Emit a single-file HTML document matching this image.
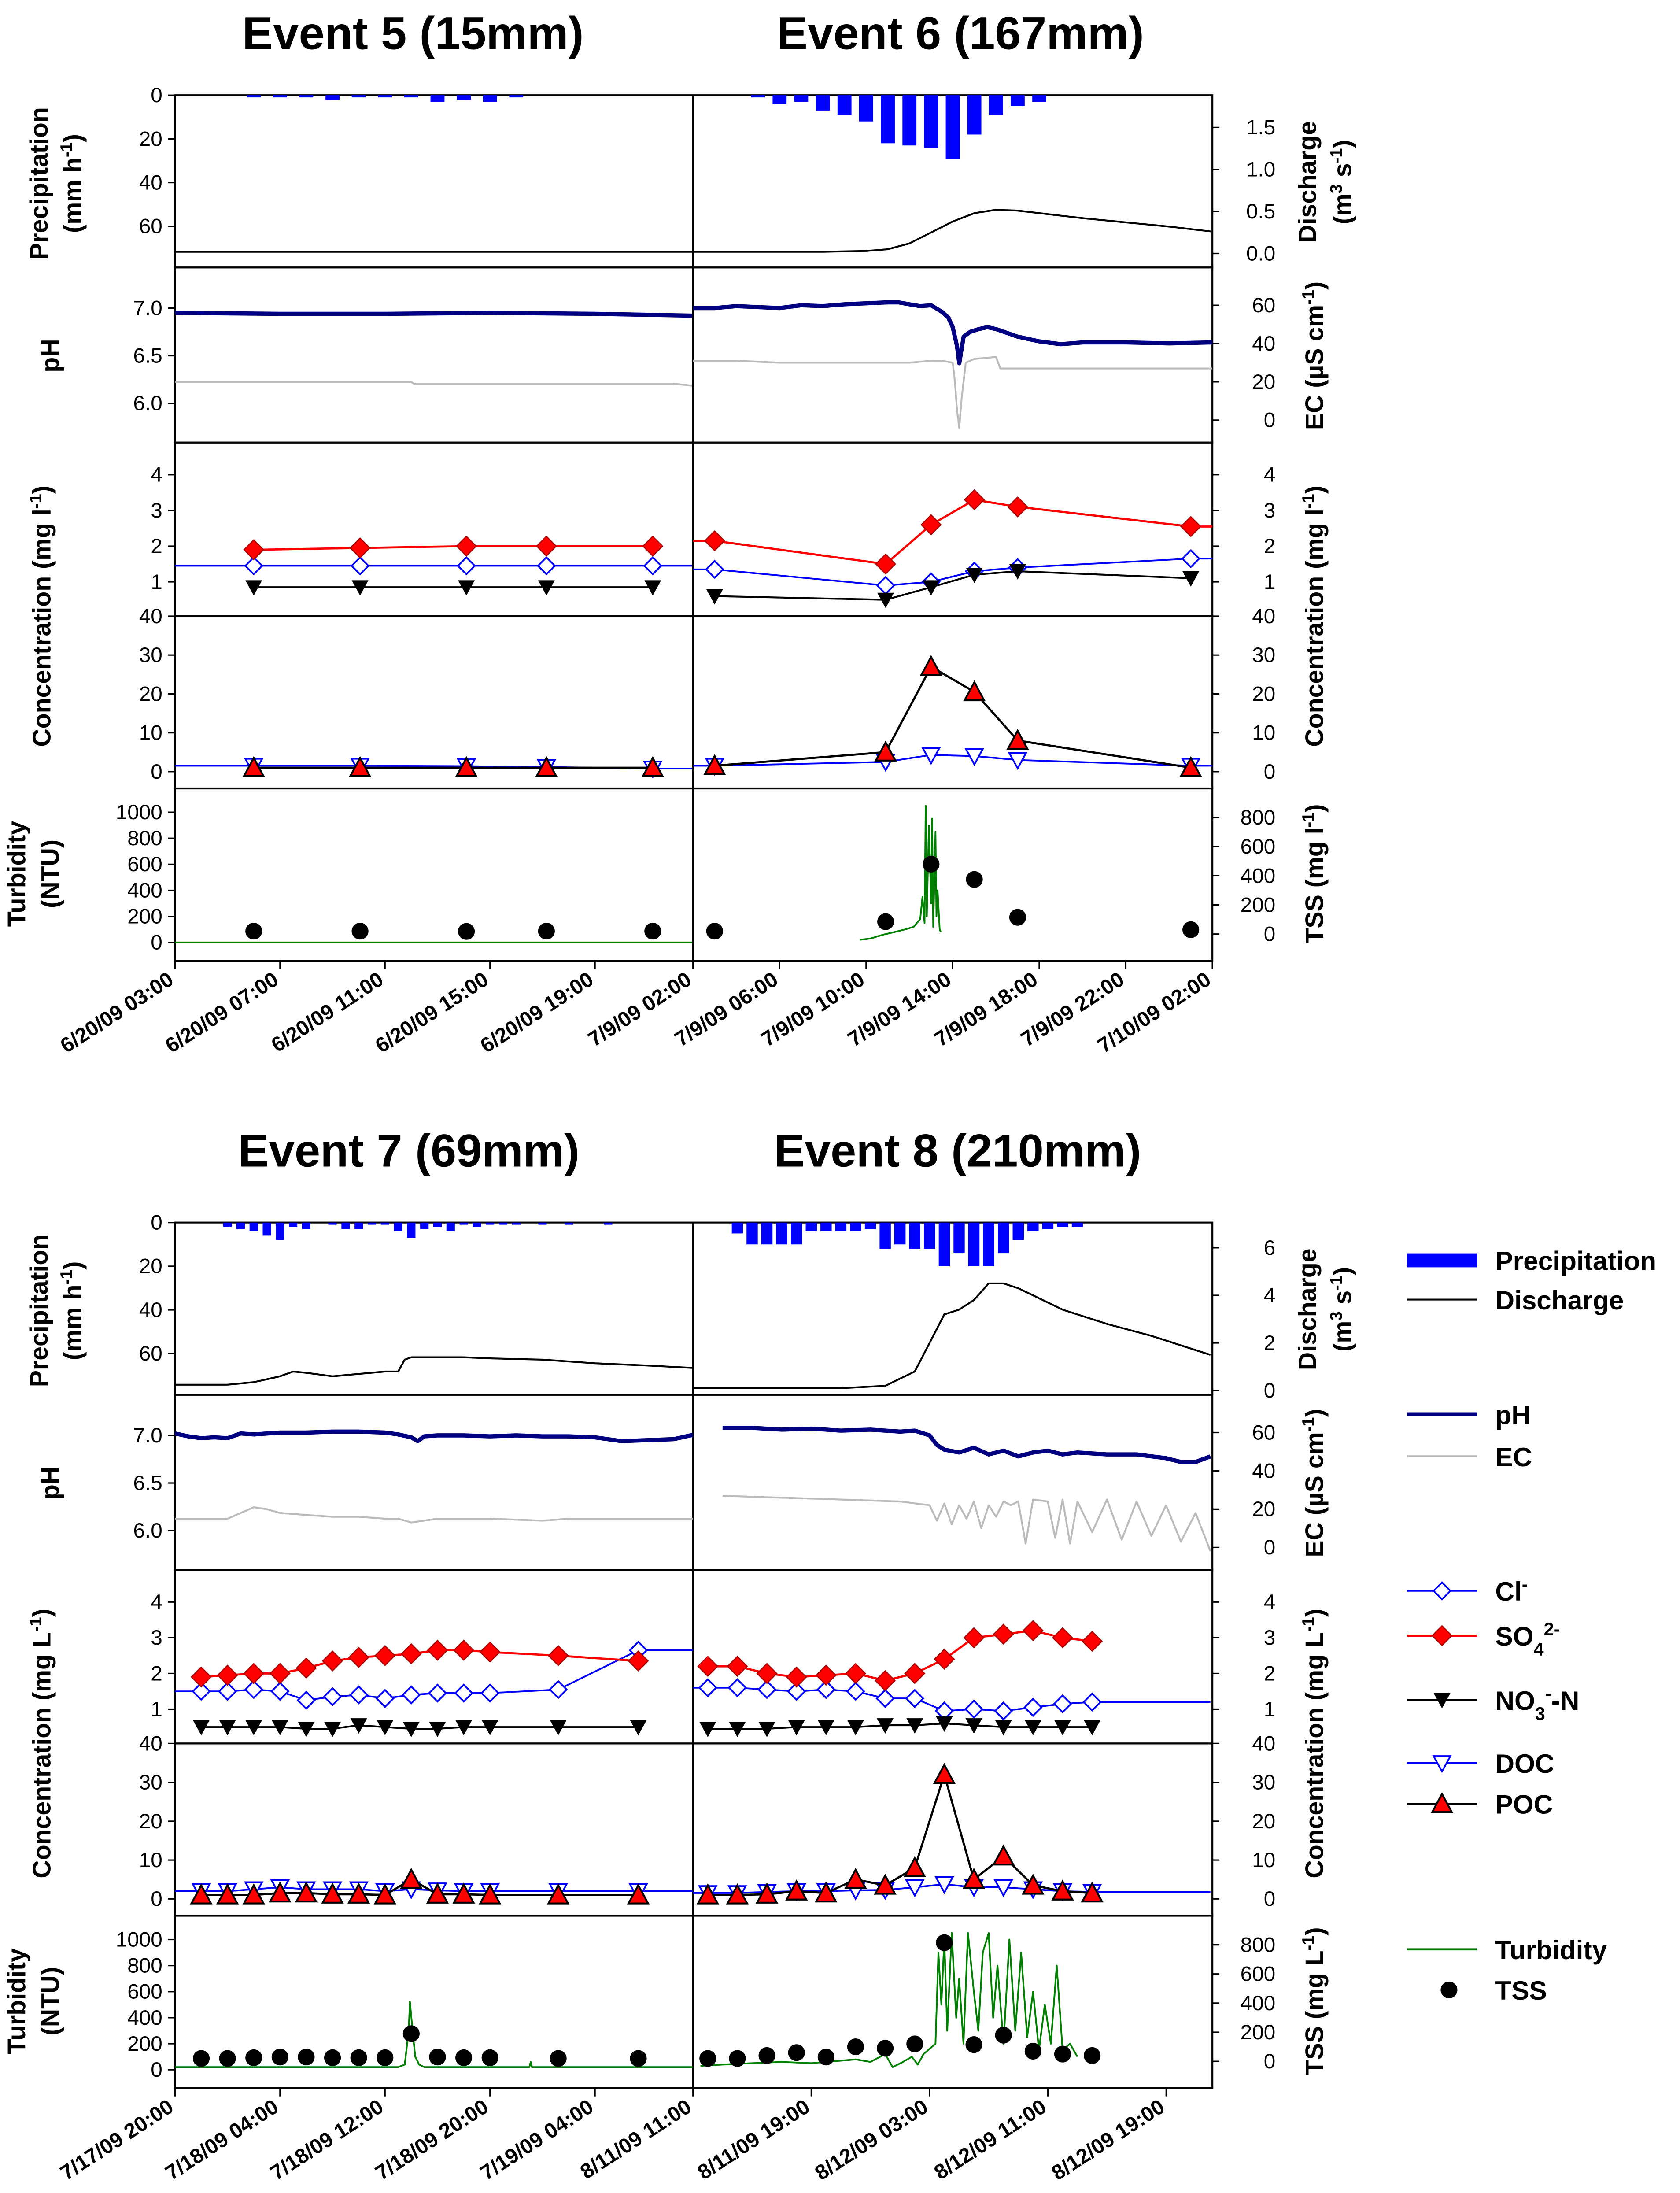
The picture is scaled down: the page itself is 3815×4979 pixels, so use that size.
<!DOCTYPE html>
<html><head><meta charset="utf-8"><style>
html,body{margin:0;padding:0;background:#fff}
svg{display:block;font-family:"Liberation Sans",Arial,sans-serif}
</style></head><body>
<svg id="chart" xmlns="http://www.w3.org/2000/svg" width="3815" height="4979" viewBox="0 0 1200 1566" preserveAspectRatio="none">
<defs>
<clipPath id="cL0"><rect x="125" y="60" width="370" height="640"/></clipPath>
<clipPath id="cR0"><rect x="495" y="60" width="371" height="640"/></clipPath>
<clipPath id="cL1"><rect x="125" y="865" width="370" height="640"/></clipPath>
<clipPath id="cR1"><rect x="495" y="865" width="371" height="640"/></clipPath>
</defs>
<g id="root"></g>
</svg>
<script>
// ---------- DATA ----------
const e5PrecipHours=[3,4,5,6,7,8,9,10,11,12,13];
const e5Precip=[1,1,1,2,1,1,1,3,2,3,1];
const e5QHours=[0,10,19.7];
const e5Q=[0.02,0.02,0.02];
const e5PhHours=[0,4,8,12,16,19.7];
const e5Ph=[6.95,6.94,6.94,6.95,6.94,6.92];
const e5EcHours=[0,9,9.1,19,19.7];
const e5Ec=[20,20,19,19,18];
const e5SampleHours=[3,7.05,11.1,14.15,18.2];
const e5SO4=[1.9,1.95,2.0,2.0,2.0];
const e5Cl=[1.45,1.45,1.45,1.45,1.45];
const e5NO3=[0.85,0.85,0.85,0.85,0.85];
const e5POC=[1.0,1.0,1.0,1.0,1.0];
const e5DOC=[1.5,1.5,1.4,1.2,0.8];
const e5TSS=[20,20,18,20,20];
const e5TurbHours=[0,19.7];
const e5Turb=[0,0];
const e6PrecipHours=[3,4,5,6,7,8,9,10,11,12,13,14,15,16];
const e6Precip=[1,4,3,7,9,12,22,23,24,29,18,9,5,3];
const e6QHours=[0,6,8,9,10,11,12,13,14,15,16,17,18,20,22,24];
const e6Q=[0.02,0.02,0.03,0.05,0.12,0.25,0.38,0.48,0.52,0.51,0.48,0.45,0.42,0.37,0.32,0.26];
const e6PhHours=[0,1,2,3,4,5,6,7,8,9,9.5,10,10.5,11,11.5,11.8,12,12.2,12.3,12.5,12.8,13.2,13.6,14,14.5,15,16,17,18,20,22,24];
const e6Ph=[7.0,7.0,7.02,7.01,7.0,7.03,7.02,7.04,7.05,7.06,7.06,7.04,7.02,7.03,6.96,6.9,6.8,6.6,6.42,6.7,6.75,6.78,6.8,6.78,6.74,6.7,6.65,6.62,6.64,6.64,6.63,6.64];
const e6EcHours=[0,2,4,6,8,10,11,11.5,12,12.1,12.2,12.3,12.4,12.6,13,14,14.2,16,20,24];
const e6Ec=[31,31,30,30,30,30,31,31,30,20,5,-4,10,30,32,33,27,27,27,27];
const e6SampleHours=[1,8.9,11,13,15,23];
const e6SO4=[2.15,1.5,2.6,3.3,3.1,2.55];
const e6Cl=[1.35,0.9,1.0,1.3,1.4,1.65];
const e6NO3=[0.6,0.5,0.85,1.2,1.3,1.1];
const e6POC=[1.5,5,27,20.5,8,1];
const e6DOC=[1.5,2.5,4.3,4,3,1.5];
const e6TSS=[20,85,480,375,115,30];
const e6TurbHours=[7.7,8.2,8.8,9.3,9.8,10.2,10.5,10.6,10.7,10.75,10.8,10.9,11.0,11.05,11.1,11.2,11.25,11.3,11.4,11.45];
const e6Turb=[20,30,60,80,100,120,180,350,150,1050,200,900,300,950,120,850,200,400,100,80];
const e7PrecipHours=[4,5,6,7,8,9,10,12,13,14,15,16,17,18,19,20,21,22,23,24,25,26,28,30,33];
const e7Precip=[2,3,4,6,8,2,3,1,3,3,1,1,4,7,3,2,4,1,2,1,1,1,1,1,1];
const e7QHours=[0,4,6,8,9,10,12,14,16,17,17.5,18,20,22,24,28,32,36,39.6];
const e7Q=[0.25,0.25,0.35,0.6,0.8,0.75,0.6,0.7,0.8,0.8,1.3,1.4,1.4,1.4,1.35,1.3,1.15,1.05,0.95];
const e7PhHours=[0,1,2,3,4,5,6,8,10,12,14,16,17,18,18.5,19,20,22,24,26,28,30,32,34,36,38,39.6];
const e7Ph=[7.02,6.99,6.97,6.98,6.97,7.02,7.01,7.03,7.03,7.04,7.04,7.03,7.01,6.98,6.94,6.99,7.0,7.0,6.99,7.0,6.99,6.99,6.98,6.94,6.95,6.96,7.01];
const e7EcHours=[0,2,4,5,6,7,8,10,12,14,16,17,18,20,24,28,30,32,36,39.6];
const e7Ec=[15,15,15,18,21,20,18,17,16,16,15,15,13,15,15,14,15,15,15,15];
const e7SampleHours=[2,4,6,8,10,12,14,16,18,20,22,24,29.2,35.3];
const e7SO4=[1.9,1.95,2.0,2.0,2.15,2.35,2.45,2.5,2.55,2.65,2.65,2.6,2.5,2.35];
const e7Cl=[1.5,1.5,1.55,1.5,1.25,1.35,1.4,1.3,1.4,1.45,1.45,1.45,1.55,2.65];
const e7NO3=[0.5,0.5,0.5,0.5,0.45,0.45,0.55,0.5,0.45,0.45,0.5,0.5,0.5,0.5];
const e7POC=[1,1,1,1.5,1.5,1.2,1.2,1,5,1.2,1.2,1,1,1];
const e7DOC=[2,2,2.5,3,2.5,2.5,2.5,2,2.5,2.2,2,2,2,2];
const e7TSS=[20,20,25,30,30,25,25,25,190,30,25,25,20,20];
const e7TurbHours=[0,10,17,17.5,17.8,17.9,18.1,18.3,18.6,19,27,27.1,27.2,27.4,39.6];
const e7Turb=[20,20,20,40,300,520,300,100,40,20,20,60,20,20,20];
const e8PrecipHours=[3,4,5,6,7,8,9,10,11,12,13,14,15,16,17,18,19,20,21,22,23,24,25,26];
const e8Precip=[5,10,10,10,10,4,4,4,4,3,12,10,12,12,20,14,20,20,14,8,4,3,2,2];
const e8QHours=[0,10,13,14,15,16,17,18,19,20,21,22,23,25,28,31,35];
const e8Q=[0.1,0.1,0.2,0.5,0.8,2.0,3.2,3.4,3.8,4.5,4.5,4.3,4.0,3.4,2.8,2.3,1.5];
const e8PhHours=[2,4,6,8,10,12,14,15,16,16.5,17,18,19,20,21,22,23,24,25,26,28,30,32,33,34,35];
const e8Ph=[7.08,7.08,7.06,7.07,7.05,7.06,7.04,7.05,7.0,6.9,6.85,6.82,6.87,6.8,6.84,6.78,6.82,6.84,6.8,6.82,6.8,6.8,6.76,6.72,6.72,6.78];
const e8EcHours=[2,6,10,14,16,16.5,17,17.5,18,18.5,19,19.5,20,20.5,21,21.5,22,22.5,23,24,24.5,25,25.5,26,27,28,29,30,31,32,33,34,35];
const e8Ec=[27,26,25,24,22,14,23,12,22,15,24,10,22,16,24,22,24,2,25,24,5,25,2,24,8,25,4,24,6,22,3,18,-2];
const e8SampleHours=[1,3,5,7,9,11,13,15,17,19,21,23,25,27];
const e8SO4=[2.2,2.2,2.0,1.9,1.95,2.0,1.8,2.0,2.4,3.0,3.1,3.2,3.0,2.9];
const e8Cl=[1.6,1.6,1.55,1.5,1.55,1.5,1.3,1.3,0.95,1.0,0.95,1.05,1.15,1.2];
const e8NO3=[0.45,0.45,0.45,0.5,0.5,0.5,0.55,0.55,0.6,0.55,0.5,0.5,0.5,0.5];
const e8POC=[1,1,1.2,2,1.5,5,3.5,8,32,5,11,3.5,2,1.5];
const e8DOC=[1.5,1.5,1.8,2,2,2.2,2.3,3,3.8,3,3,2.5,2,1.8];
const e8TSS=[20,20,40,60,30,100,90,120,815,115,180,70,50,40];
const e8TurbHours=[0.5,2,4,6,8,10,11,12,13,13.5,14.2,14.8,15.2,15.6,16.4,16.6,16.8,17,17.2,17.5,17.8,18,18.3,18.6,19,19.3,19.6,20,20.3,20.6,21,21.4,21.8,22.2,22.6,23,23.4,23.8,24.2,24.6,25,25.5,26];
const e8Turb=[30,40,50,60,50,70,80,60,120,20,60,100,40,120,200,900,500,1000,300,1050,400,700,200,1050,600,300,900,1050,400,800,200,1000,300,900,250,600,150,500,200,800,150,200,100];
const yPrecipTicks=[0,20,40,60];
const yPhTicks=[6.0,6.5,7.0];
const yEcTicks=[0,20,40,60];
const yConc1Ticks=[1,2,3,4];
const yConc2Ticks=[0,10,20,30,40];
const yTurbTicks=[0,200,400,600,800,1000];
const yTssTicks=[0,200,400,600,800];
const yQ6Ticks=[0.0,0.5,1.0,1.5];
const yQ8Ticks=[0,2,4,6];
const xTop=["6/20/09 03:00","6/20/09 07:00","6/20/09 11:00","6/20/09 15:00","6/20/09 19:00","7/9/09 02:00","7/9/09 06:00","7/9/09 10:00","7/9/09 14:00","7/9/09 18:00","7/9/09 22:00","7/10/09 02:00"];
const xBot=["7/17/09 20:00","7/18/09 04:00","7/18/09 12:00","7/18/09 20:00","7/19/09 04:00","8/11/09 11:00","8/11/09 19:00","8/12/09 03:00","8/12/09 11:00","8/12/09 19:00"];

const X=[h=>125+h*18.75,h=>495+h*15.46,h=>125+h*9.375,h=>495+h*10.56];
const yPrecip=(v,o)=>68+o+v*1.56;
const yPh=(v,o)=>220+o-(v-7)*68;
const yEc=(v,o)=>300+o-v*1.367;
const yC1=(v,o)=>441+o-v*25.5;
const yC2=(v,o)=>551+o-v*2.775;
const yTurb=(v,o)=>673+o-v*0.093;
const yTss=(v,o)=>667+o-v*0.104;
const yQ6=v=>181-v*60;
const yQ8=v=>993-v*17;

const NS="http://www.w3.org/2000/svg";
const root=document.getElementById('root');
function mk(tag,attrs,parent,text){const e=document.createElementNS(NS,tag);for(const k in attrs)e.setAttribute(k,attrs[k]);if(text!==undefined)e.textContent=text;(parent||root).appendChild(e);return e;}
function pathD(xs,ys){return xs.map((x,i)=>(i?'L':'M')+x.toFixed(1)+','+ys[i].toFixed(1)).join('');}

function frames(o){
  const rows=[[68,191],[191,316],[316,440],[440,563],[563,686]];
  rows.forEach((r,i)=>{
    const f=mk('rect',{x:125,y:r[0]+o,width:741,height:r[1]-r[0],fill:'none',stroke:'#000','stroke-width':1.3});
    
    
  });
  const d=mk('line',{x1:495,y1:68+o,x2:495,y2:686+o,stroke:'#000','stroke-width':1.3});
  
  
}
function yTicks(vals,fn,o,side,fmt,name){
  const g=mk('g',{});
  
  
  vals.forEach(v=>{
    const y=fn(v,o);
    if(side==='L'){mk('line',{x1:120,y1:y,x2:125,y2:y,stroke:'#000'},g);mk('text',{x:116,y:y+5,'text-anchor':'end','font-size':15},g,fmt(v));}
    else{mk('line',{x1:866,y1:y,x2:871,y2:y,stroke:'#000'},g);mk('text',{x:911,y:y+5,'text-anchor':'end','font-size':15},g,fmt(v));}
  });
}
function vlabel(x,y,parts,name){
  const t=mk('text',{transform:`translate(${x},${y}) rotate(-90)`,'text-anchor':'middle','font-size':18,'font-weight':'bold'});
  
  
  parts.forEach(p=>{mk('tspan',p[1]?{'baseline-shift':'super','font-size':12}:{},t,p[0]);});
}
const f0=v=>String(v), f1=v=>v.toFixed(1);
[0,805].forEach((o,bi)=>{
  frames(o);
  yTicks(yPrecipTicks,yPrecip,o,'L',f0,'precip-axis-ticks');
  yTicks(yPhTicks,yPh,o,'L',f1,'ph-axis-ticks');
  yTicks(yEcTicks,yEc,o,'R',f0,'ec-axis-ticks');
  yTicks(yConc1Ticks,yC1,o,'L',f0,'conc1-left-ticks');
  yTicks(yConc1Ticks,yC1,o,'R',f0,'conc1-right-ticks');
  yTicks(yConc2Ticks,yC2,o,'L',f0,'conc2-left-ticks');
  yTicks(yConc2Ticks,yC2,o,'R',f0,'conc2-right-ticks');
  yTicks(yTurbTicks,yTurb,o,'L',f0,'turbidity-axis-ticks');
  yTicks(yTssTicks,yTss,o,'R',f0,'tss-axis-ticks');
  if(bi===0) yTicks(yQ6Ticks,v=>yQ6(v),0,'R',f1,'discharge-axis-ticks');
  else yTicks(yQ8Ticks,v=>yQ8(v),0,'R',f0,'discharge-axis-ticks');
  const L=bi===0?'l':'L';
  vlabel(34,131+o,[['Precipitation']],'precip-axis-title');
  vlabel(58,131+o,[['(mm h'],['-1',1],[')']],'precip-axis-title-unit');
  vlabel(42,254+o,[['pH']],'ph-axis-title');
  vlabel(36,440+o,[['Concentration (mg '+L],['-1',1],[')']],'conc-left-axis-title');
  vlabel(18,624+o,[['Turbidity']],'turbidity-axis-title');
  vlabel(42,624+o,[['(NTU)']],'turbidity-axis-title-unit');
  vlabel(940,130+o,[['Discharge']],'discharge-axis-title');
  vlabel(965,130+o,[['(m'],['3',1],[' s'],['-1',1],[')']],'discharge-axis-title-unit');
  vlabel(945,254+o,[['EC (µS cm'],['-1',1],[')']],'ec-axis-title');
  vlabel(945,440+o,[['Concentration (mg '+L],['-1',1],[')']],'conc-right-axis-title');
  vlabel(945,624+o,[['TSS (mg '+L],['-1',1],[')']],'tss-axis-title');
  const labs=bi===0?xTop:xBot;
  const gx=mk('g',{});
  
  
  labs.forEach((lab,i)=>{
    let x;
    if(bi===0) x=i<=5?125+i*75:495+(i-5)*61.83;
    else x=i<=5?125+i*75:495+(i-5)*84.5;
    if(i===5) x=495;
    mk('line',{x1:x,y1:686+o,x2:x,y2:692+o,stroke:'#000'},gx);
    mk('text',{transform:`translate(${x},${702+o}) rotate(-33)`,'text-anchor':'end','font-size':15,'font-weight':'bold'},gx,lab);
  });
});
[['Event 5 (15mm)',295,35],['Event 6 (167mm)',686,35],['Event 7 (69mm)',292,833],['Event 8 (210mm)',684,833]].forEach(t=>{
  const e=mk('text',{x:t[1],y:t[2],'text-anchor':'middle','font-size':33,'font-weight':'bold'},root,t[0]);
  
  
});

function marker(g,type,x,y){
  let e;
  if(type==='diamond-open') e=mk('polygon',{points:`${x},${y-6} ${x+6},${y} ${x},${y+6} ${x-6},${y}`,fill:'#fff',stroke:'#00f','stroke-width':1.2},g);
  else if(type==='diamond-red') e=mk('polygon',{points:`${x},${y-7} ${x+7},${y} ${x},${y+7} ${x-7},${y}`,fill:'#f00',stroke:'#a00','stroke-width':0.8},g);
  else if(type==='tri-down-black') e=mk('polygon',{points:`${x-6},${y-5} ${x+6},${y-5} ${x},${y+6}`,fill:'#000'},g);
  else if(type==='tri-down-open') e=mk('polygon',{points:`${x-6},${y-5} ${x+6},${y-5} ${x},${y+6}`,fill:'#fff',stroke:'#00f','stroke-width':1.2},g);
  else if(type==='tri-up-red') e=mk('polygon',{points:`${x-7},${y+6} ${x+7},${y+6} ${x},${y-7}`,fill:'#f00',stroke:'#000','stroke-width':1.3},g);
  else e=mk('circle',{cx:x,cy:y,r:6,fill:'#000'},g);
  return e;
}
function series(clip,name,xs,ys,color,w,mtype,o,drawLine){
  const g=mk('g',{'clip-path':`url(#${clip})`});
  
  
  if(drawLine!==false) mk('path',{d:pathD(xs,ys),fill:'none',stroke:color,'stroke-width':w,'stroke-linejoin':'round'},g);
  if(mtype) xs.forEach((x,i)=>marker(g,mtype,x,ys[i]));
}
function bars(clip,name,hrs,vals,xf,o,w){
  const g=mk('g',{'clip-path':`url(#${clip})`});
  
  
  hrs.forEach((h,i)=>{
    const b=mk('rect',{x:xf(h)-w/2,y:68+o,width:w,height:yPrecip(vals[i],o)-68-o,fill:'#00f'},g);
    
    
  });
}
const ev=[
 {P:[e5PrecipHours,e5Precip],Q:[e5QHours,e5Q],qf:yQ6,pH:[e5PhHours,e5Ph],EC:[e5EcHours,e5Ec],S:e5SampleHours,SO4:e5SO4,Cl:e5Cl,NO3:e5NO3,POC:e5POC,DOC:e5DOC,TSS:e5TSS,T:[e5TurbHours,e5Turb],o:0,clip:'cL0',bw:10,ext:[0,19.7]},
 {P:[e6PrecipHours,e6Precip],Q:[e6QHours,e6Q],qf:yQ6,pH:[e6PhHours,e6Ph],EC:[e6EcHours,e6Ec],S:e6SampleHours,SO4:e6SO4,Cl:e6Cl,NO3:e6NO3,POC:e6POC,DOC:e6DOC,TSS:e6TSS,T:[e6TurbHours,e6Turb],o:0,clip:'cR0',bw:10,ext:[0,24]},
 {P:[e7PrecipHours,e7Precip],Q:[e7QHours,e7Q],qf:yQ8,pH:[e7PhHours,e7Ph],EC:[e7EcHours,e7Ec],S:e7SampleHours,SO4:e7SO4,Cl:e7Cl,NO3:e7NO3,POC:e7POC,DOC:e7DOC,TSS:e7TSS,T:[e7TurbHours,e7Turb],o:805,clip:'cL1',bw:6,ext:[0,39.6]},
 {P:[e8PrecipHours,e8Precip],Q:[e8QHours,e8Q],qf:yQ8,pH:[e8PhHours,e8Ph],EC:[e8EcHours,e8Ec],S:e8SampleHours,SO4:e8SO4,Cl:e8Cl,NO3:e8NO3,POC:e8POC,DOC:e8DOC,TSS:e8TSS,T:[e8TurbHours,e8Turb],o:805,clip:'cR1',bw:8,ext:[0,35]}
];
ev.forEach((e,i)=>{
  const xf=X[i],o=e.o,c=e.clip;
  bars(c,'precipitation-bars',e.P[0],e.P[1],xf,o,e.bw);
  series(c,'discharge-line',e.Q[0].map(xf),e.Q[1].map(v=>e.qf(v)),'#000',1.3,null,o);
  series(c,'ec-line',e.EC[0].map(xf),e.EC[1].map(v=>yEc(v,o)),'#bbb',1.3,null,o);
  series(c,'ph-line',e.pH[0].map(xf),e.pH[1].map(v=>yPh(v,o)),'#000080',3,null,o);
  const sx=e.S.map(xf);
  const ex0=xf(e.ext[0]),ex1=xf(e.ext[1]);
  const clY=e.Cl.map(v=>yC1(v,o));
  series(c,'cl-line',[ex0,...sx,ex1],[clY[0],...clY,clY[clY.length-1]],'#00f',1.2,null,o);
  series(c,'cl-markers',sx,clY,'#00f',1,'diamond-open',o,false);
  const soY=e.SO4.map(v=>yC1(v,o));
  series(c,'so4-series',i===1?[ex0,...sx,ex1]:sx,i===1?[soY[0],...soY,soY[soY.length-1]]:soY,'#f00',1.5,null,o);
  series(c,'so4-markers',sx,soY,'#f00',1,'diamond-red',o,false);
  series(c,'no3-series',sx,e.NO3.map(v=>yC1(v,o)),'#000',1.3,'tri-down-black',o);
  const dY=e.DOC.map(v=>yC2(v,o));
  series(c,'doc-line',[ex0,...sx,ex1],[dY[0],...dY,dY[dY.length-1]],'#00f',1.2,null,o);
  series(c,'doc-markers',sx,dY,'#00f',1,'tri-down-open',o,false);
  series(c,'poc-series',sx,e.POC.map(v=>yC2(v,o)),'#000',1.5,'tri-up-red',o);
  series(c,'turbidity-line',e.T[0].map(xf),e.T[1].map(v=>yTurb(v,o)),'#008000',1.2,null,o);
  series(c,'tss-points',sx,e.TSS.map(v=>yTss(v,o)),'#000',1,'circle',o,false);
});

const lg=mk('g',{});


function lent(y,label,draw){
  const g=mk('g',{},lg);
  
  
  draw(g,y);
  const t=mk('text',{x:1068,y:y+7,'font-size':19,'font-weight':'bold'},g);
  label.forEach(p=>{mk('tspan',p[1]==='sup'?{'baseline-shift':'super','font-size':13}:p[1]==='sub'?{'baseline-shift':'sub','font-size':13}:{},t,p[0]);});
}
const ln=(col,w)=>(g,y)=>mk('line',{x1:1005,y1:y,x2:1055,y2:y,stroke:col,'stroke-width':w},g);
lent(900,[['Precipitation']],(g,y)=>mk('rect',{x:1005,y:y-5,width:50,height:10,fill:'#00f'},g));
lent(928,[['Discharge']],ln('#000',1.3));
lent(1010,[['pH']],ln('#000080',3));
lent(1040,[['EC']],ln('#bbb',1.5));
lent(1136,[['Cl'],['-','sup']],(g,y)=>{ln('#00f',1.2)(g,y);marker(g,'diamond-open',1030,y);});
lent(1168,[['SO'],['4','sub'],['2-','sup']],(g,y)=>{ln('#f00',1.5)(g,y);marker(g,'diamond-red',1030,y);});
lent(1214,[['NO'],['3','sub'],['-','sup'],['-N']],(g,y)=>{ln('#000',1.3)(g,y);marker(g,'tri-down-black',1030,y);});
lent(1259,[['DOC']],(g,y)=>{ln('#00f',1.2)(g,y);marker(g,'tri-down-open',1030,y);});
lent(1288,[['POC']],(g,y)=>{ln('#000',1.3)(g,y);marker(g,'tri-up-red',1030,y);});
lent(1392,[['Turbidity']],ln('#008000',1.5));
lent(1421,[['TSS']],(g,y)=>marker(g,'circle',1035,y));
</script>
</body></html>
